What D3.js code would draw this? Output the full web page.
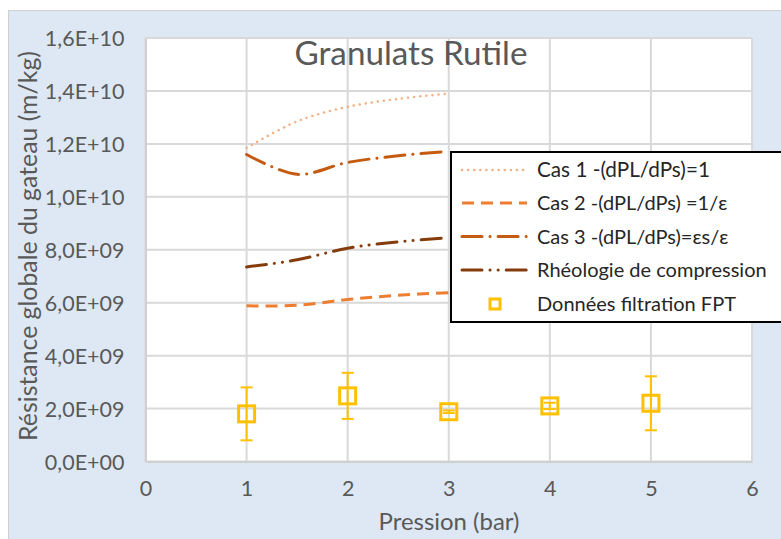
<!DOCTYPE html>
<html><head><meta charset="utf-8">
<script src="https://cdn.jsdelivr.net/npm/d3@7"></script>
<style>body{margin:0;background:#fff;overflow:hidden}svg{display:block}</style>
</head><body><svg id="c" width="781" height="539"></svg>
<script>
const pressionCurve = [1, 1.5, 2, 2.5, 3];
const cas1 = [11.85e9, 12.85e9, 13.4e9, 13.7e9, 13.9e9];
const cas2 = [5.88e9, 5.9e9, 6.12e9, 6.28e9, 6.38e9];
const cas3 = [11.6e9, 10.85e9, 11.3e9, 11.55e9, 11.72e9];
const rheo = [7.35e9, 7.62e9, 8.06e9, 8.3e9, 8.45e9];
const fptX = [1, 2, 3, 4, 5];
const fptY = [1.8e9, 2.48e9, 1.88e9, 2.1e9, 2.2e9];
const fptErr = [1.0e9, 0.87e9, 0.05e9, 0.12e9, 1.02e9];
const xTicks = [0, 1, 2, 3, 4, 5, 6];
const yTicks = [0, 2e9, 4e9, 6e9, 8e9, 10e9, 12e9, 14e9, 16e9];
const yTickLabels = ["0,0E+00","2,0E+09","4,0E+09","6,0E+09","8,0E+09","1,0E+10","1,2E+10","1,4E+10","1,6E+10"];
const seriesNames = ["Cas 1 -(dPL/dPs)=1","Cas 2 -(dPL/dPs) =1/ε","Cas 3 -(dPL/dPs)=εs/ε","Rhéologie de compression","Données filtration FPT"];

const svg = d3.select("#c");
const font = "Lato, 'Open Sans', sans-serif";
const grey = "#595959";

// fit a text element's font size so its rendered width equals target
function fit(sel, target){
  sel.each(function(){
    const w = this.getComputedTextLength();
    const fs = parseFloat(d3.select(this).attr("font-size"));
    d3.select(this).attr("font-size", (fs*target/w).toFixed(2));
  });
}

svg.append("rect").attr("x",8.5).attr("y",10.5).attr("width",800).attr("height",560)
  .attr("fill","#dde8f4").attr("stroke","#d0d0d0").attr("stroke-width",1);

const L=145.5, R=752, T=38, B=461.5;
const x = d3.scaleLinear().domain([0,6]).range([L,R]);
const y = d3.scaleLinear().domain([0,16e9]).range([B,T]);

svg.append("rect").attr("x",L).attr("y",T).attr("width",R-L).attr("height",B-T).attr("fill","#fff");

// grid
const g = svg.append("g");
g.selectAll(".hg").data(yTicks).join("line")
  .attr("x1",L).attr("x2",R).attr("y1",d=>y(d)).attr("y2",d=>y(d))
  .attr("stroke","#d9d9d9").attr("stroke-width",2);
g.selectAll(".vg").data(xTicks).join("line")
  .attr("y1",T).attr("y2",B).attr("x1",d=>x(d)).attr("x2",d=>x(d))
  .attr("stroke","#d9d9d9").attr("stroke-width",2);

// axes
const yAxis = d3.axisLeft(y).tickValues(yTicks).tickSize(0).tickPadding(21)
  .tickFormat((d,i)=>yTickLabels[i]);
const ya = svg.append("g").attr("transform",`translate(${L},0)`).call(yAxis);
ya.select(".domain").attr("stroke","#d0d0d0").attr("stroke-width",2);
ya.selectAll("text").attr("font-family",font).attr("font-size",21.5).attr("fill",grey).attr("dy","0.35em");

const xAxis = d3.axisBottom(x).tickValues(xTicks).tickSize(0).tickPadding(19).tickFormat(d3.format("d"));
const xa = svg.append("g").attr("transform",`translate(0,${B})`).call(xAxis);
xa.select(".domain").attr("stroke","#d0d0d0").attr("stroke-width",2);
xa.selectAll("text").attr("font-family",font).attr("font-size",21.5).attr("fill",grey);

// title & axis titles
const title = svg.append("text").attr("x",411).attr("y",65).attr("text-anchor","middle")
  .attr("font-family",font).attr("font-size",30).attr("fill",grey).text("Granulats Rutile");
fit(title, 233);
const xt = svg.append("text").attr("x",449).attr("y",530).attr("text-anchor","middle")
  .attr("font-family",font).attr("font-size",21).attr("fill",grey).text("Pression (bar)");
fit(xt, 141);
const yt = svg.append("text").attr("transform","translate(37,246) rotate(-90)").attr("text-anchor","middle")
  .attr("font-family",font).attr("font-size",21).attr("fill",grey).text("Résistance globale du gateau (m/kg)");
fit(yt, 390);

// lines
const styles = [
  {data:cas1, color:"#f4b183", w:2.5, dash:"0.1,6", cap:"round"},
  {data:cas2, color:"#ed7d31", w:3, dash:"12,7", cap:"butt"},
  {data:cas3, color:"#c55a11", w:3, dash:"20,8,0.1,8", cap:"round"},
  {data:rheo, color:"#843c0c", w:3, dash:"20,8,0.1,8,0.1,8", cap:"round"}
];
const line = d3.line().x(d=>x(d[0])).y(d=>y(d[1])).curve(d3.curveCatmullRom.alpha(0.5));
styles.forEach(s=>{
  svg.append("path").attr("d", line(pressionCurve.map((p,i)=>[p,s.data[i]])))
    .attr("fill","none").attr("stroke",s.color).attr("stroke-width",s.w)
    .attr("stroke-dasharray",s.dash).attr("stroke-linecap",s.cap);
});

// FPT error bars & markers
const yellow = "#ffc000";
const fg = svg.append("g");
fptX.forEach((px,i)=>{
  const cx=x(px), y1=y(fptY[i]+fptErr[i]), y0=y(fptY[i]-fptErr[i]);
  fg.append("line").attr("x1",cx).attr("x2",cx).attr("y1",y1).attr("y2",y0).attr("stroke",yellow).attr("stroke-width",2);
  fg.append("line").attr("x1",cx-6).attr("x2",cx+6).attr("y1",y1).attr("y2",y1).attr("stroke",yellow).attr("stroke-width",2);
  fg.append("line").attr("x1",cx-6).attr("x2",cx+6).attr("y1",y0).attr("y2",y0).attr("stroke",yellow).attr("stroke-width",2);
  fg.append("rect").attr("x",cx-8).attr("y",y(fptY[i])-8).attr("width",16).attr("height",16)
    .attr("fill","none").attr("stroke",yellow).attr("stroke-width",3);
});

// legend
svg.append("rect").attr("x",451).attr("y",152).attr("width",400).attr("height",170)
  .attr("fill","#fff").attr("stroke","#000").attr("stroke-width",2);
const rows=[170,203,236.5,270,304];
seriesNames.forEach((n,i)=>{
  const ry=rows[i];
  if(i<4){
    const s=styles[i];
    svg.append("line").attr("x1",462).attr("x2",527).attr("y1",ry).attr("y2",ry)
      .attr("stroke",s.color).attr("stroke-width",s.w).attr("stroke-dasharray",s.dash).attr("stroke-linecap",s.cap);
  } else {
    svg.append("rect").attr("x",495-5).attr("y",ry-5).attr("width",10).attr("height",10)
      .attr("fill","none").attr("stroke",yellow).attr("stroke-width",3);
  }
  const t = svg.append("text").attr("x",537).attr("y",ry+7).attr("font-family",font).attr("font-size",20)
    .attr("fill","#262626").text(n);
  if(i===0) fit(t, 173);
});
</script></body></html>
